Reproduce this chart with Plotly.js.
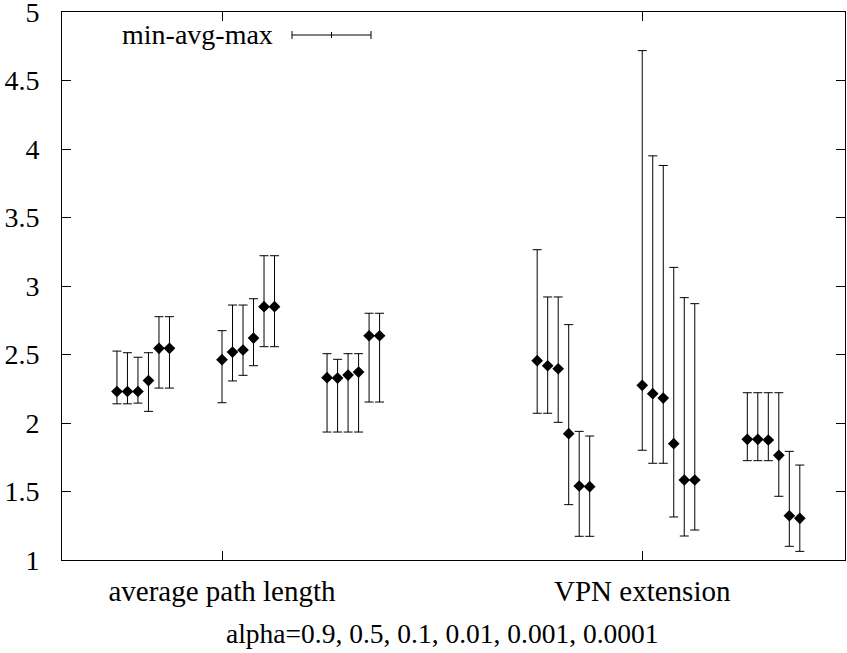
<!DOCTYPE html>
<html>
<head>
<meta charset="utf-8">
<script src="https://cdn.plot.ly/plotly-3.0.1.min.js"></script>
<style>html,body{margin:0;padding:0;background:#fff;}#chart{width:847px;height:653px;}</style>
</head>
<body>
<div id="chart"></div>
<script>
// alpha values (one point per alpha within each group)
const alphas = ["0.9", "0.5", "0.1", "0.01", "0.001", "0.0001"];
// category tick labels
const categories = ["average path length", "VPN extension"];
const categoryPos = [2, 6];
// group base positions: 3 groups per category
const groupBase = [1, 2, 3, 5, 6, 7];

// average path length: 3 groups x 6 alphas
const aplAvg = [2.23, 2.23, 2.23, 2.31, 2.545, 2.545,
                2.462, 2.518, 2.533, 2.62, 2.849, 2.849,
                2.331, 2.328, 2.35, 2.372, 2.637, 2.637];
const aplMin = [2.14, 2.14, 2.145, 2.085, 2.255, 2.255,
                2.148, 2.307, 2.348, 2.418, 2.557, 2.557,
                1.934, 1.934, 1.934, 1.934, 2.153, 2.153];
const aplMax = [2.525, 2.513, 2.48, 2.513, 2.776, 2.776,
                2.674, 2.861, 2.861, 2.907, 3.221, 3.221,
                2.506, 2.465, 2.506, 2.506, 2.801, 2.801];

// VPN extension: 3 groups x 6 alphas
const vpnAvg = [2.455, 2.418, 2.396, 1.922, 1.54, 1.535,
                2.275, 2.214, 2.182, 1.849, 1.584, 1.584,
                1.881, 1.881, 1.876, 1.764, 1.323, 1.304];
const vpnMin = [2.071, 2.071, 2.005, 1.404, 1.173, 1.173,
                1.801, 1.706, 1.706, 1.314, 1.175, 1.219,
                1.725, 1.725, 1.725, 1.465, 1.1, 1.063];
const vpnMax = [3.265, 2.92, 2.92, 2.718, 1.939, 1.905,
                4.718, 3.95, 3.88, 3.136, 2.915, 2.871,
                2.221, 2.221, 2.221, 2.221, 1.793, 1.693];

const yTicks = [1, 1.5, 2, 2.5, 3, 3.5, 4, 4.5, 5];
const yTickText = ["1", "1.5", "2", "2.5", "3", "3.5", "4", "4.5", "5"];

// assemble
const avg = aplAvg.concat(vpnAvg);
const mn = aplMin.concat(vpnMin);
const mx = aplMax.concat(vpnMax);
const xs = [];
groupBase.forEach(g => alphas.forEach((a, k) => xs.push(g + 0.1 * k)));

const FONT = "Liberation Serif";

const trace = {
  type: "scatter", mode: "markers",
  x: xs, y: avg,
  marker: {symbol: "diamond", size: 9, color: "#000"},
  error_y: {type: "data", symmetric: false,
            array: mx.map((v, i) => v - avg[i]),
            arrayminus: avg.map((v, i) => v - mn[i]),
            color: "#000", thickness: 1, width: 4.5},
  showlegend: false, hoverinfo: "skip"
};

const L = 62, R = 845, T = 12, B = 560;
const px = p => (p - L) / (R - L);
const py = p => (B - p) / (B - T);
const ln = {color: "#000", width: 1};
const shapes = [
  {type: "line", xref: "paper", yref: "paper", x0: px(292), x1: px(371), y0: py(35), y1: py(35), line: ln},
  {type: "line", xref: "paper", yref: "paper", x0: px(292), x1: px(292), y0: py(31), y1: py(39), line: ln},
  {type: "line", xref: "paper", yref: "paper", x0: px(371), x1: px(371), y0: py(31), y1: py(39), line: ln},
  {type: "line", xref: "paper", yref: "paper", x0: px(331.5), x1: px(331.5), y0: py(32), y1: py(38), line: ln}
];

const layout = {
  width: 847, height: 653,
  margin: {l: L, r: 847 - R, t: T, b: 653 - B},
  paper_bgcolor: "#fff", plot_bgcolor: "#fff",
  font: {family: FONT, size: 28, color: "#000"},
  showlegend: false,
  xaxis: {
    range: [0.477, 7.93], tickmode: "array", tickvals: categoryPos, ticktext: categories,
    ticks: "inside", ticklen: 9, tickcolor: "#000", tickwidth: 1,
    showline: true, linecolor: "#000", linewidth: 1, mirror: "ticks",
    showgrid: false, zeroline: false, ticklabelstandoff: 5,
    tickfont: {family: FONT, size: 29, color: "#000"}
  },
  yaxis: {
    range: [1, 5], tickmode: "array", tickvals: yTicks, ticktext: yTickText,
    ticks: "inside", ticklen: 9, tickcolor: "#000", tickwidth: 1,
    showline: true, linecolor: "#000", linewidth: 1, mirror: "ticks",
    showgrid: false, zeroline: false, ticklabelstandoff: 16,
    ticklabeloverflow: "allow",
    tickfont: {family: FONT, size: 28, color: "#000"}
  },
  annotations: [
    {xref: "paper", yref: "paper", x: px(275), y: py(35), xanchor: "right", yanchor: "middle",
     text: "min-avg-max", showarrow: false, font: {family: FONT, size: 28, color: "#000"}},
    {xref: "paper", yref: "paper", x: px(442), y: py(633), xanchor: "center", yanchor: "middle",
     text: "alpha=" + alphas.join(", "), showarrow: false, font: {family: FONT, size: 27.5, color: "#000"}}
  ],
  shapes: shapes
};

Plotly.newPlot("chart", [trace], layout, {displayModeBar: false, staticPlot: true});
</script>
</body>
</html>
